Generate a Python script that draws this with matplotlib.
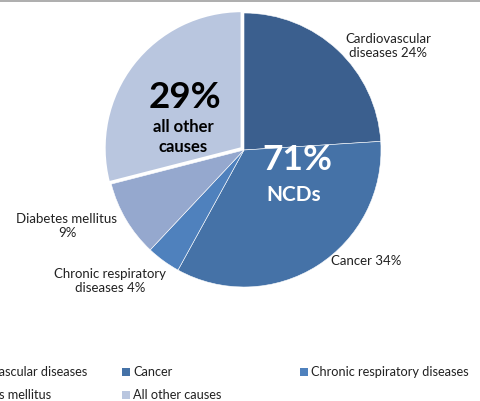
import matplotlib.pyplot as plt
from matplotlib.patches import Rectangle
from matplotlib.lines import Line2D

plt.rcParams['font.family'] = ['Lato', 'DejaVu Sans']

# data
causes = ["Cardiovascular diseases", "Cancer", "Chronic respiratory diseases",
          "Diabetes mellitus", "All other causes"]
shares = [24, 34, 4, 9, 29]
labels = ["Cardiovascular\ndiseases 24%", "Cancer 34%", "Chronic respiratory\ndiseases 4%",
          "Diabetes mellitus\n9%", ""]
colors = ["#3B5F8E", "#4572A7", "#4F81BD", "#95A8CE", "#B9C6DF"]

W, H = 480, 401
fig = plt.figure(figsize=(W / 100, H / 100), dpi=100)

# pie centre (244,150) px from top-left, radius 137 px
cx, cy, r = 244, 150, 137
ax = fig.add_axes([(cx - r) / W, 1 - (cy + r) / H, 2 * r / W, 2 * r / H])
wedges, _ = ax.pie(shares, colors=colors, startangle=90, counterclock=False,
                   explode=[0, 0, 0, 0, 0.022],
                   wedgeprops=dict(edgecolor="white", linewidth=0.4))
wedges[4].set_linewidth(1.5)
ax.set_xlim(-1, 1)
ax.set_ylim(-1, 1)
ax.set_aspect("equal")
ax.axis("off")

def px(x, y):
    return x / W, 1 - y / H

# outside labels
label_pos = [(388, 46), (366, 261), (110, 281), (67, 226)]
for lab, (x, y) in zip(labels, label_pos):
    fig.text(*px(x, y), lab, ha="center", va="center", fontsize=9.5,
             color="#222222", linespacing=1.15)

# big annotations
fig.text(*px(185, 97), "29%", ha="center", va="center", fontsize=26.5,
         fontweight="bold", color="black")
fig.text(*px(183, 137), "all other\ncauses", ha="center", va="center", fontsize=12,
         fontweight="bold", color="black", linespacing=1.25)
fig.text(*px(297, 160), "71%", ha="center", va="center", fontsize=25.5,
         fontweight="bold", color="white")
fig.text(*px(294, 195), "NCDs", ha="center", va="center", fontsize=15,
         fontweight="bold", color="white")

# legend (3 columns, equal width, first column cut at the left edge)
col_x = [-56, 122, 300]
row_y = [372, 395]
for i, (name, col) in enumerate(zip(causes, colors)):
    x0 = col_x[i % 3]
    y0 = row_y[i // 3]
    fig.patches.append(Rectangle(px(x0, y0 + 4), 8 / W, 8 / H, facecolor=col,
                                 edgecolor="none", transform=fig.transFigure))
    fig.text(*px(x0 + 11, y0), name, ha="left", va="center", fontsize=9.2,
             color="#222222")

# thin grey line at the top edge
fig.add_artist(Line2D([0, 1], [1 - 0.5 / H, 1 - 0.5 / H], color="#A0A0A0",
                      linewidth=1.2, transform=fig.transFigure))

fig.savefig("out.png", dpi=100)
